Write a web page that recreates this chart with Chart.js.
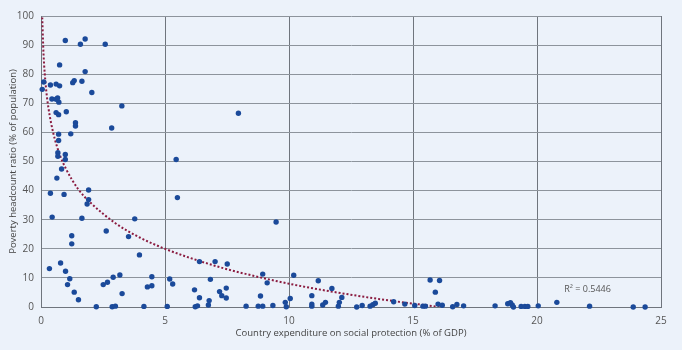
<html>
  <head>
    <script src="https://cdn.jsdelivr.net/npm/chart.js"></script>
    <style>
      body { margin: 0; background: #ecf2fa; }
      #wrap { width: 682px; height: 350px; }
    </style>
  </head>

  <body>
    <div id="wrap">
      <canvas id="myChart" width="682" height="350"></canvas>
    </div>
    <script>
      // social protection spending (% of GDP) vs poverty headcount (%)
      const spending = [
        0.98, 1.59, 1.78, 2.59, 0.75, 1.78, 0.11, 0.05, 0.38, 0.61,
        0.75, 1.28, 1.34, 1.65, 2.05, 0.44, 0.61, 0.67, 0.72, 1.02,
        0.61, 0.71, 3.26, 1.39, 1.39, 1.2, 2.85, 0.71, 0.71, 0.68,
        0.68, 0.98, 0.98, 0.83, 0.64, 5.45, 0.38, 0.93, 1.92, 1.92,
        1.86, 0.45, 1.65, 2.63, 1.24, 1.24, 0.34, 0.79, 0.99, 1.16,
        1.07, 1.34, 1.51, 2.23, 2.51, 2.68, 2.91, 3.18, 3.27, 2.87,
        3.0, 3.53, 3.78, 3.97, 4.29, 4.47, 4.47, 4.15, 5.09, 5.19,
        5.31, 5.5, 6.19, 6.39, 6.39, 6.22, 6.31, 6.78, 6.75, 6.83,
        7.02, 7.2, 7.29, 7.47, 7.47, 7.51, 7.96, 9.48, 8.27, 8.76,
        8.94, 8.85, 8.94, 9.12, 9.35, 9.85, 9.89, 10.05, 10.19, 10.92,
        10.92, 10.92, 11.18, 11.36, 11.47, 11.73, 11.99, 12.03, 12.13, 12.73,
        12.95, 13.27, 13.38, 13.48, 14.22, 14.67, 15.07, 15.4, 15.5, 15.69,
        16.07, 15.9, 16.01, 16.18, 16.6, 16.77, 17.04, 18.31, 18.82, 18.93,
        19.0, 19.05, 19.36, 19.51, 19.63, 20.05, 20.8, 22.12, 23.88, 24.36
      ]
      const poverty = [
        91.6, 90.3, 92.1, 90.3, 83.2, 80.9, 77.3, 74.8, 76.3, 76.6,
        76.0, 77.1, 77.8, 77.6, 73.7, 71.5, 71.4, 71.8, 70.4, 67.1,
        66.8, 66.1, 69.1, 63.3, 62.2, 59.5, 61.5, 59.4, 57.2, 53.0,
        51.8, 52.4, 50.7, 47.4, 44.3, 50.7, 39.1, 38.7, 40.2, 36.9,
        35.4, 30.9, 30.5, 26.1, 24.5, 21.7, 13.2, 15.1, 12.3, 9.7,
        7.7, 5.1, 2.5, 0.1, 7.7, 8.5, 10.2, 11.0, 4.6, 0.1,
        0.3, 24.2, 30.3, 17.9, 6.9, 10.4, 7.3, 0.2, 0.2, 9.6,
        7.9, 37.6, 5.9, 15.6, 3.2, 0.1, 0.4, 2.2, 0.7, 9.5,
        15.6, 5.3, 3.9, 6.5, 3.1, 14.8, 66.6, 29.2, 0.3, 0.3,
        0.3, 3.8, 11.3, 8.3, 0.5, 1.6, 0.1, 2.9, 10.9, 3.9,
        1.0, 0.3, 9.0, 0.7, 1.6, 6.4, 0.3, 1.6, 3.3, 0.0,
        0.5, 0.3, 0.8, 1.3, 1.8, 1.0, 0.5, 0.3, 0.3, 9.3,
        9.1, 5.1, 1.0, 0.6, 0.1, 0.9, 0.4, 0.4, 1.1, 1.5,
        0.7, 0.0, 0.2, 0.2, 0.2, 0.4, 1.6, 0.3, 0.0, 0.0
      ]

      // logarithmic trend line
      const trendX = [0.05, 0.1, 0.2, 0.3, 0.5, 0.75, 1, 1.5, 2, 3, 4, 5, 6, 7, 8, 10, 12, 14, 16.1]
      const trendY = [99.5, 87.3, 75.4, 68.4, 59.6, 52.5, 47.6, 40.5, 35.8, 28.8, 23.8, 20.0, 16.9, 14.2, 11.9, 8.0, 4.9, 2.3, 0]

      const r2Label = "R\u00b2 = 0.5446"
      const xTitle = "Country expenditure on social protection (% of GDP)"
      const yTitle = "Poverty headcount ratio (% of population)"

      const font = "'Open Sans', 'Noto Sans', sans-serif"

      const r2Plugin = {
        id: "r2",
        afterDatasetsDraw(chart) {
          const ctx = chart.ctx
          const x = chart.scales.x.getPixelForValue(21.1)
          const y = chart.scales.y.getPixelForValue(6)
          ctx.save()
          ctx.font = "9px " + font
          ctx.fillStyle = "#555"
          ctx.textBaseline = "middle"
          ctx.fillText(r2Label, x, y)
          ctx.restore()
        }
      }

      const config = {
        type: "scatter",
        data: {
          datasets: [
            {
              label: "Countries",
              data: spending.map(function (x, i) {
                return { x: x, y: poverty[i] }
              }),
              backgroundColor: "#1b4a9a",
              borderColor: "#1b4a9a",
              pointRadius: 2.7,
              borderWidth: 0,
              clip: false,
              order: 1
            },
            {
              label: "Trend",
              data: trendX.map(function (x, i) {
                return { x: x, y: trendY[i] }
              }),
              showLine: true,
              borderColor: "#8b1c40",
              borderWidth: 2,
              borderDash: [2, 2],
              pointRadius: 0,
              cubicInterpolationMode: "monotone",
              fill: false,
              order: 2
            }
          ]
        },
        options: {
          responsive: false,
          animation: false,
          layout: { padding: { top: 16, right: 21, left: 0, bottom: 0 } },
          plugins: {
            legend: { display: false },
            tooltip: { enabled: false }
          },
          scales: {
            x: {
              type: "linear",
              min: 0,
              max: 25,
              afterFit: function (s) { s.height = 43 },
              ticks: {
                stepSize: 5,
                padding: 8,
                color: "#555",
                font: { family: font, size: 10 }
              },
              grid: { color: "#6f757d", drawTicks: false },
              border: { color: "#6f757d" },
              title: {
                display: true,
                text: xTitle,
                color: "#444",
                font: { family: font, size: 9.5 },
                padding: { top: 0, bottom: 11 }
              }
            },
            y: {
              min: 0,
              max: 100,
              afterFit: function (s) { s.width = 41 },
              ticks: {
                stepSize: 10,
                padding: 7,
                color: "#555",
                font: { family: font, size: 10 }
              },
              grid: { color: "#8d949c", drawTicks: false },
              border: { color: "#6f757d" },
              title: {
                display: true,
                text: yTitle,
                color: "#444",
                font: { family: font, size: 9.5 },
                padding: { top: 8, bottom: 0 }
              }
            }
          }
        },
        plugins: [r2Plugin]
      }
      const myChart = new Chart(document.getElementById("myChart"), config)
    </script>
  </body>
</html>
